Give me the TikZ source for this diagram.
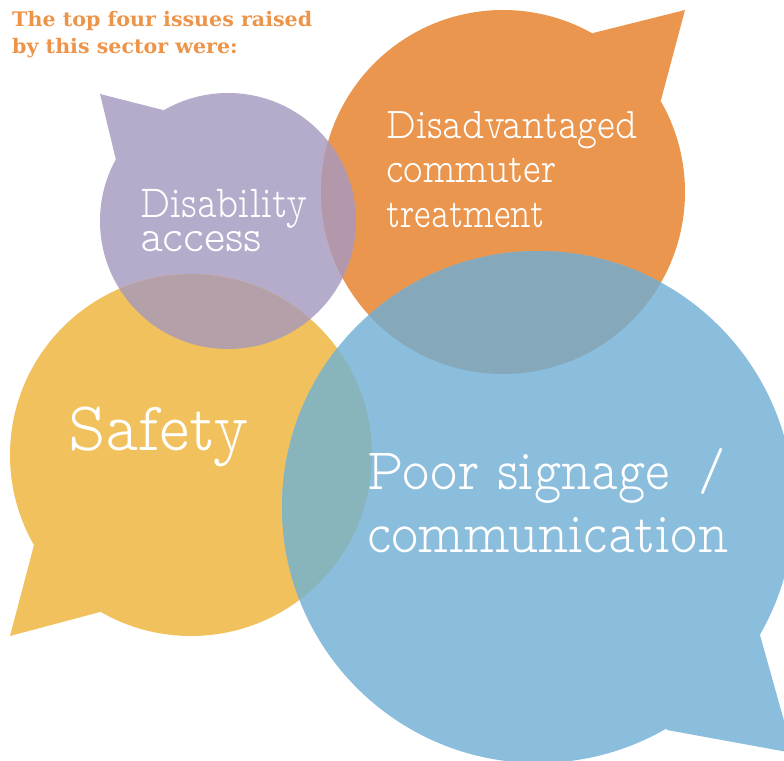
\documentclass[tikz,border=0pt]{standalone}
\usepackage{graphicx}
\usepackage{fontspec}
\newfontfamily\slablight{lmmonoproplt10-regular.otf}
\newfontfamily\headfont{DejaVu Serif}
\definecolor{bubpurple}{RGB}{181,171,203}
\definecolor{buborange}{RGB}{235,150,78}
\definecolor{bubyellow}{RGB}{241,193,93}
\definecolor{bubblue}{RGB}{139,189,221}
\definecolor{mixPO}{RGB}{178,152,170}
\definecolor{mixPY}{RGB}{179,160,168}
\definecolor{mixOB}{RGB}{133,169,186}
\definecolor{mixYB}{RGB}{136,181,187}
\definecolor{titleorange}{RGB}{236,148,74}
% multi-line nodes below are placed by the baseline of their last line
\tikzset{
  label/.style={inner sep=0pt, anchor=base west, text=white, align=left},
  heading/.style={inner sep=0pt, anchor=base west, text=titleorange, align=left,
    font=\headfont\bfseries\fontsize{20}{26}\selectfont},
}
% horizontal squeeze of a text
\newcommand\squeeze[2]{\scalebox{#1}[1]{#2}}
% circle of each bubble
\def\cpurple{(228,221) circle[radius=128pt]}
\def\corange{(503,192) circle[radius=182pt]}
\def\cyellow{(191,455) circle[radius=181pt]}
\def\cblue{(538,507) circle[radius=256pt]}
\begin{document}
\begin{tikzpicture}[x=1pt,y=-1pt]
\useasboundingbox (0,0) rectangle (784,760);
\begin{scope}
\clip (0,0) rectangle (784,760);
% bubbles with their tails
\fill[bubpurple] \cpurple;
\fill[bubpurple] (100,94) -- (163,110) -- (228,221) -- (116,160) -- cycle;
\fill[buborange] \corange;
\fill[buborange] (685,10) -- (661,100) -- (503,192) -- (593,33) -- cycle;
\fill[bubyellow] \cyellow;
\fill[bubyellow] (10,636) -- (34,545) -- (191,455) -- (100,612) -- cycle;
\fill[bubblue] \cblue;
\fill[bubblue] (793,753) -- (667,730) -- (538,507) -- (760,635) -- cycle;
% overlapping areas
\begin{scope}\clip \cpurple; \fill[mixPO] \corange; \end{scope}
\begin{scope}\clip \cpurple; \fill[mixPY] \cyellow; \end{scope}
\begin{scope}\clip \corange; \fill[mixOB] \cblue; \end{scope}
\begin{scope}\clip \cyellow; \fill[mixYB] \cblue; \end{scope}
\end{scope}
% heading
\node[heading] (head) at (12,53)
  {\squeeze{1.03}{The top four issues raised}\\\squeeze{1.03}{by this sector were:}};
% bubble texts
\node[label, font=\slablight\fontsize{46}{34}\selectfont] (dis) at (140,251)
  {\squeeze{0.83}{Disability}\\\squeeze{0.97}{access}};
\node[label, font=\slablight\fontsize{44}{44.5}\selectfont] (adv) at (386,227)
  {\squeeze{0.86}{Disadvantaged}\\\squeeze{0.845}{commuter}\\\squeeze{0.8}{treatment}};
\node[label, font=\slablight\fontsize{70}{70}\selectfont] (saf) at (68,450)
  {\squeeze{0.92}{Safety}};
\node[label, font=\slablight\fontsize{59}{63}\selectfont] (sig) at (367,552)
  {\squeeze{0.88}{Poor signage\hspace{33pt}/}\\\squeeze{0.88}{communication}};
\end{tikzpicture}
\end{document}
